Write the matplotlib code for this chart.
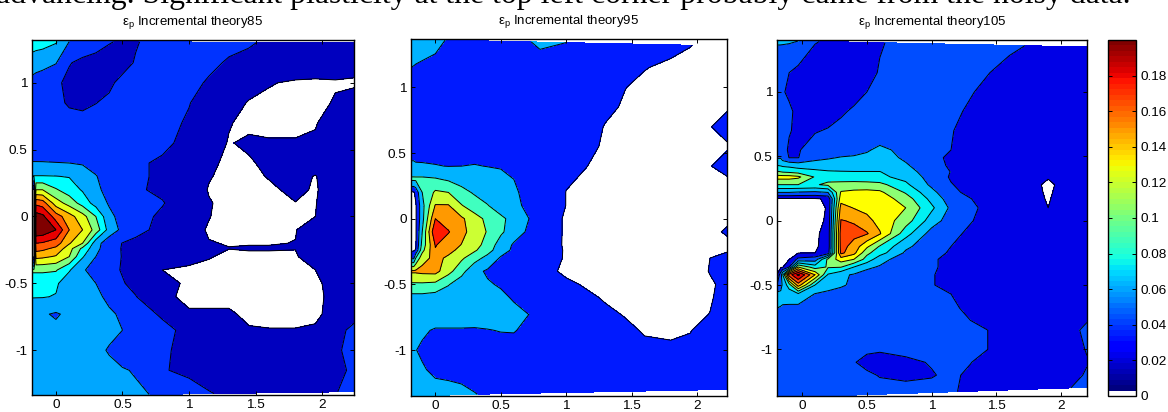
import numpy as np
import matplotlib
matplotlib.use('Agg')
import matplotlib.pyplot as plt
from matplotlib.colors import ListedColormap, Normalize
from matplotlib.cm import ScalarMappable

plt.rcParams['font.family'] = 'Liberation Sans'
plt.rcParams['mathtext.fontset'] = 'custom'
plt.rcParams['mathtext.rm'] = 'Liberation Sans'
plt.rcParams['mathtext.it'] = 'Liberation Sans'

# strain values are read in units of 1e-3
x1 = [-0.18, -0.165, -0.15, -0.1, 0, 0.1, 0.2, 0.3, 0.4, 0.5, 0.6, 0.8, 1, 1.15, 1.3, 1.45, 1.6, 1.8, 1.95, 2.1, 2.24]
y1 = [1.31, 1.15, 1, 0.85, 0.7, 0.55, 0.4, 0.3, 0.2, 0.1, 0, -0.1, -0.2, -0.24, -0.3, -0.4, -0.5, -0.6, -0.73, -0.85, -1, -1.15, -1.33]
z1 = [
    [72, 71, 70, 68, 62, 40, 32, 28, 21, 18, 19, 26, 27, 27, 25, 22, 17, 14, 13, 12, 10],
    [48, 48, 47, 46, 41, 21, 16, 13, 13, 16, 21, 26, 26, 24, 18, 15, 12, 9, 7, 6, 6],
    [35, 34, 33, 30, 23, 16, 14, 15, 18, 23, 25, 26, 25, 18, 10, 6, 3.5, 2, 2, 2.5, 2],
    [30, 29, 29, 27, 22, 19, 18, 19.8, 22, 25, 26, 25, 20.5, 14, 6, 2.5, 1.5, 1, 1.5, 3.5, 6],
    [28, 28, 27, 26, 24, 23, 23, 24, 25, 25, 25, 24, 18.5, 11, 3.5, 1, 1.5, 1.5, 2.5, 7, 9],
    [27, 27, 27, 26, 25, 25, 25, 25, 25, 25, 24, 23, 16, 7, 2.5, 4.5, 3.5, 3.5, 4, 9, 12],
    [41, 41, 41, 41, 40.5, 40, 38, 33, 28, 25, 22, 18, 10, 4.5, 1.5, 2, 5, 12, 8, 13, 14],
    [61, 61, 61, 61, 60.5, 59, 52, 41, 31, 26, 23, 17, 9, 3.5, 1, 1, 3.5, 6, 2.5, 10, 13],
    [0, 0, 100, 100, 82, 70, 58, 44, 34, 28, 22, 17, 8, 2.5, 1, 1, 1.5, 5, 2, 9, 13],
    [0, 0, 155, 150, 110, 92, 72, 52, 38, 31, 26, 21, 10, 3.5, 1, 1.5, 2, 2.8, 2.5, 11, 14],
    [0, 0, 190, 185, 150, 128, 108, 80, 45, 33, 26, 17, 8, 3.2, 1, 1, 1.5, 1.5, 3, 12, 15],
    [0, 0, 197, 195, 180, 140, 120, 92, 52, 35, 25, 15, 5, 2.5, 1, 1, 1, 2.5, 10, 14, 16],
    [0, 0, 160, 158, 150, 122, 100, 48, 28, 19.5, 16, 12, 6, 3.2, 2.8, 2.5, 2.5, 3.2, 12, 16, 18],
    [0, 0, 148, 145, 135, 108, 75, 46, 27, 19, 15, 12, 7, 4, 3.1, 3.8, 3.8, 3.2, 14, 17, 19],
    [0, 0, 126, 124, 118, 100, 62, 40, 30, 19, 15, 10, 6, 3.5, 1.5, 1, 1, 2, 9, 16, 18],
    [84, 84, 84, 84, 82, 62, 42, 33, 24, 19, 14, 3, 1.5, 1, 1, 1, 1, 1.5, 3, 12, 15],
    [65, 65, 65, 65, 63, 48, 44, 40, 32, 21, 16, 6, 1.5, 1, 1, 1, 1, 1, 2, 5, 13],
    [61, 61, 61, 61, 59, 50, 47, 43, 37, 27, 20.5, 5, 1, 1, 1, 1, 1, 1, 1.5, 5, 12],
    [47, 46, 45, 42, 38, 44, 46, 44, 42, 38, 27, 18, 4, 4, 4, 1.5, 1, 1, 1.5, 6, 12],
    [48, 48, 47, 46, 44, 44, 44, 44, 43, 40, 33, 24, 16, 9, 6, 3.6, 3.3, 3.3, 4, 12, 26],
    [44, 44, 44, 44, 44, 44, 44, 43, 39, 34, 30, 22, 16, 12, 9, 8, 7, 8, 10, 18, 24],
    [44, 44, 44, 44, 44, 44, 44, 44, 43, 41, 39, 21, 17, 13, 10, 9, 8, 8, 10, 17, 22],
    [44, 44, 44, 44, 44, 44, 44, 44, 44, 44, 42, 38, 26, 21, 17, 14, 12, 12, 14, 19, 27],
]

x2 = [-0.186, -0.165, -0.15, -0.1, 0, 0.1, 0.2, 0.3, 0.4, 0.5, 0.6, 0.8, 1, 1.15, 1.3, 1.45, 1.6, 1.8, 1.95, 2.1, 2.23]
y2 = [1.35, 1.15, 1, 0.85, 0.7, 0.55, 0.4, 0.3, 0.2, 0.1, 0, -0.1, -0.2, -0.24, -0.3, -0.4, -0.5, -0.6, -0.73, -0.85, -1, -1.15, -1.33]
z2 = [
    [45, 44, 44, 42, 36, 28, 24, 22, 21, 21, 22, 34, 30, 24, 16, 12, 8, 6, 3.2, 1, 1],
    [30, 29, 28, 26, 24, 22, 20, 20, 20, 20, 20, 20, 18, 15, 10, 7, 3.4, 1, 1, 1, 1],
    [24, 23, 22, 21, 20, 20, 20, 20, 20, 20, 20, 18, 15, 11, 7, 3.2, 1, 1, 1, 1, 1],
    [20, 20, 20, 20, 20, 20, 20, 20, 20, 20, 19, 16, 13, 9, 5, 2, 1, 1, 1, 1, 1.5],
    [20, 20, 20, 20, 20, 20, 20, 20, 20, 20, 19, 15, 11, 7, 2.5, 1.5, 1, 1, 1, 2.5, 8],
    [22, 22, 22, 21, 20, 20, 20, 20, 20, 20, 19, 14, 9, 5, 2, 1, 1, 1, 1, 1, 1.5],
    [33, 33, 32, 32, 31, 29.5, 30, 31, 29.5, 28, 26, 15, 8, 3.2, 1, 1, 1, 1, 1, 2.5, 8],
    [66, 66, 66, 66, 63, 56, 50, 45, 40, 37, 30, 16, 4, 2, 1, 1, 1, 1, 1, 1, 1.5],
    [0, 0, 10, 60, 95, 90, 68, 57, 50, 44, 33, 17, 2.8, 1, 1, 1, 1, 1, 1, 1, 1],
    [0, 0, 0, 50, 122, 122, 92, 72, 61, 48, 36, 16, 2.8, 1, 1, 1, 1, 1, 1, 1, 1],
    [0, 0, 0, 50, 150, 135, 125, 103, 82, 65, 52, 14, 1, 1, 1, 1, 1, 1, 1, 1, 1.5],
    [0, 0, 0, 60, 178, 152, 130, 105, 88, 66, 42, 14, 1, 1, 1, 1, 1, 1, 1, 1, 4],
    [0, 0, 0, 70, 152, 135, 119, 100, 80, 45, 27, 13, 1, 1, 1, 1, 1, 1, 1, 1, 1],
    [0, 0, 5, 80, 148, 128, 112, 94, 72, 42, 25, 13, 1.5, 1, 1, 1, 1, 1, 1, 1, 2],
    [25, 25, 60, 110, 128, 115, 95, 72, 50, 27, 22, 12, 1.5, 1, 1, 1, 1, 1, 1, 3, 6],
    [125, 125, 125, 128, 130, 100, 70, 38, 26, 20, 15, 7, 1, 1, 1, 1, 1, 1, 1, 3.2, 6],
    [85, 85, 85, 85, 82, 62, 44, 38, 33, 27, 20, 9, 5, 2, 1, 1, 1, 1, 1, 2.5, 4],
    [50, 50, 50, 50, 46, 42, 40, 40, 38, 36, 27, 10, 7, 5, 2, 1, 1, 1, 1, 2, 7],
    [42, 42, 42, 42, 42, 42, 42, 42, 42, 42, 38, 24, 10, 7, 5, 2.5, 1, 1, 1, 3.2, 14],
    [34, 34, 34, 33, 28, 28, 28, 27.5, 29, 31, 31.5, 18, 10, 8, 7, 5, 2.2, 1.5, 2.5, 9, 18],
    [32, 31, 30.5, 27, 22, 21, 20, 20, 20, 20, 20, 16, 12, 10, 8, 7, 5, 4.5, 6, 12, 18],
    [34, 34, 34, 32, 26, 24, 22, 20, 20, 20, 20, 18, 15, 12, 10, 9, 8, 8, 9, 13, 18],
    [38, 38, 38, 38, 38, 38, 36, 31, 26, 24, 22, 20, 18, 16, 15, 14, 14, 14, 14, 16, 20],
]

x3 = [-0.194, -0.165, -0.15, -0.1, -0.03, 0.1, 0.2, 0.3, 0.4, 0.5, 0.6, 0.8, 1, 1.15, 1.3, 1.45, 1.6, 1.8, 1.9, 2.05, 2.2]
y3 = [1.39, 1.15, 1, 0.85, 0.7, 0.55, 0.49, 0.43, 0.38, 0.34, 0.28, 0.22, 0.17, 0.1, 0, -0.1, -0.2, -0.25, -0.3, -0.36, -0.42, -0.5, -0.57, -0.68, -0.85, -1, -1.1, -1.2, -1.36]
z3 = [
    [42, 42, 42, 42, 40, 21, 18, 15, 14, 14, 19, 24, 26, 27, 27, 25, 23, 18, 14, 13, 12],
    [28, 27, 26, 20, 14, 10, 9, 10, 12, 16, 21, 26, 27, 26, 24, 20, 15, 10, 9, 9, 9],
    [24, 23, 21, 18, 12, 9, 9, 11, 15, 20, 23, 26, 27, 26, 21, 16, 12, 8, 7, 7, 8],
    [27, 26, 25, 22, 17, 13, 14, 18, 22, 25, 26, 27, 27, 23, 18, 13, 10, 8, 7, 7, 8],
    [27, 26, 26, 21, 17, 19, 21, 24, 26, 27, 27, 27, 25, 21, 14, 11, 9, 7, 6, 6, 8],
    [27, 26, 25, 18, 19, 26, 29, 31, 34, 38, 44, 35, 25, 20, 14, 10, 8, 6, 5, 5, 7],
    [38, 38, 30, 19.5, 19.5, 35, 38, 41, 42, 44, 48, 37, 23, 18, 12, 9, 7, 5, 5, 5, 7],
    [60, 58, 56, 54, 50, 48, 49, 50, 51, 51, 50, 42, 28, 17, 11, 8, 6, 4.5, 4.5, 4.5, 7],
    [82, 80, 78, 76, 72, 66, 62, 61, 60.5, 60.5, 60.5, 48, 30, 19.5, 10, 7, 5, 4, 4, 4, 7],
    [108, 108, 108, 108, 104, 78, 72, 70, 68, 66, 64, 54, 32, 18, 9, 6.5, 5, 4, 3.4, 4, 6],
    [80, 80, 80, 80, 80, 78, 84, 86, 88, 88, 86, 64, 36, 21, 13, 8, 5, 3.9, 2, 5, 6],
    [40, 40, 40, 40, 38, 36, 40, 102, 105, 106, 104, 78, 46, 24, 16, 9, 6, 3.9, 2.4, 5, 6],
    [1, 1, 1, 1, 1, 1.5, 5, 112, 114, 114, 112, 90, 54, 30, 20.5, 12, 7, 3.9, 2.7, 5, 6],
    [1, 1, 1, 1, 1, 1, 3.5, 128, 119, 114, 112, 100, 64, 36, 22, 17, 10, 3.9, 3, 5, 6],
    [1, 1, 1, 1, 1, 1, 4, 141, 138, 126, 113, 90, 50, 30, 21, 14, 8, 4.2, 4, 5, 6],
    [1, 1, 1, 1, 1, 1.5, 6, 150, 146, 142, 122, 68, 32, 24, 17, 11, 7, 5, 5, 5, 6],
    [1, 1, 1, 1, 1, 2, 6, 148, 132, 104, 78, 44, 28, 20, 14, 10, 7, 5, 5, 5, 6],
    [1, 1, 1, 1, 2.5, 3, 10, 145, 126, 85, 68, 37, 26, 18, 12, 9, 7, 5, 5, 5, 6],
    [1, 1, 1, 2.5, 25, 30, 85, 110, 100, 72, 48, 28, 22, 16, 11, 8, 6, 5, 5, 5, 6],
    [1, 1, 2, 20, 100, 70, 82, 81, 60, 44, 38, 26, 22, 16, 10, 8, 6, 5, 5, 5, 6],
    [3, 30, 60, 150, 185, 120, 58, 44, 38, 32, 30, 24, 21, 15, 10, 8, 6, 5, 5, 5, 6],
    [20, 30, 45, 70, 130, 60, 47, 42, 37, 33, 30, 24, 21, 15, 10, 8, 6, 5, 5, 5, 6],
    [46, 46, 46, 48, 56, 39, 36, 34, 32, 31, 30, 27, 25, 20, 12, 8, 6, 5, 5, 5, 6],
    [40, 39, 38, 37, 34, 31, 30, 30, 30, 29, 29, 28, 27, 24, 15, 9, 6, 5, 5, 6, 9],
    [30, 30, 30, 30, 30, 30, 30, 30, 30, 29, 28, 28, 28, 26, 24, 19.5, 12, 8, 7, 10, 26],
    [30, 30, 30, 30, 29, 28, 27, 26, 24, 23, 22, 24, 26, 26, 24, 19.5, 12, 8, 8, 12, 21],
    [30, 30, 30, 30, 29, 27, 26, 24, 21, 15, 13, 17, 21, 26, 20.5, 13, 10, 8, 8, 12, 19],
    [32, 32, 32, 32, 30, 29, 28, 27, 26, 23, 19, 17, 19, 23, 17, 12, 10, 8, 8, 13, 22],
    [34, 34, 34, 34, 33, 32, 31, 30, 29, 28, 27, 26, 25, 22, 16, 12, 10, 9, 9, 18, 30],
]

levels1 = [3, 20, 40, 60, 80, 100, 120, 140, 160, 180]
levels2 = [3, 30, 60, 90, 120, 150, 180]
levels3 = [3, 20, 40, 60, 80, 100, 120, 140, 160, 180]

colors1 = [(0, 0, .75), (0, .2, 1), (0, .65, 1), (0, 1, 1), (.5, 1, .5), (.9, 1, .1), (1, .7, 0), (1, .35, 0), (.9, 0, 0), (.5, 0, 0)]
colors2 = [(0, .1, 1), (0, .7, 1), (.25, 1, .75), (.8, 1, .2), (1, .6, 0), (1, .1, 0), (.5, 0, 0)]
colors3 = [(0, 0, .9), (0, .3, 1), (0, .75, 1), (0, .95, .95), (.55, 1, .45), (1, 1, 0), (1, .65, 0), (1, .27, 0), (.9, 0, 0), (.5, 0, 0)]

titles = ['85', '95', '105']
xticks = [0, 0.5, 1, 1.5, 2]
xticklabels = ['0', '0.5', '1', '1.5', '2']
yticks = [-1, -0.5, 0, 0.5, 1]
yticklabels = ['-1', '-0.5', '0', '0.5', '1']
cbar_ticks = [0, 0.02, 0.04, 0.06, 0.08, 0.1, 0.12, 0.14, 0.16, 0.18]
cbar_labels = ['0', '0.02', '0.04', '0.06', '0.08', '0.1', '0.12', '0.14', '0.16', '0.18']
top_text = 'advancing. Significant plasticity at the top left corner probably came from the noisy data.'

W, H = 1168, 412
fig = plt.figure(figsize=(W / 100, H / 100), dpi=100)


def box(l, t, r, b):
    return fig.add_axes([l / W, 1 - b / H, (r - l) / W, (b - t) / H])


def panel(rect, x, y, z, levels, colors, top, bottom, xlim, ylim, name):
    ax = box(*rect)
    X, Y = np.meshgrid(x, y)
    Y[0] = np.interp(x, [x[0], x[-1]], top)
    Y[-1] = np.interp(x, [x[0], 0.4, x[-1]], bottom)
    Z = np.array(z, dtype=float)
    ax.contourf(X, Y, Z, levels=levels + [1000], colors=colors)
    ax.contour(X, Y, Z, levels=levels, colors='k', linewidths=0.7)
    ax.set_xlim(xlim)
    ax.set_ylim(ylim)
    ax.set_xticks(xticks, xticklabels)
    ax.set_yticks(yticks, yticklabels)
    ax.tick_params(direction='in', top=True, right=True, length=3, width=0.7, labelsize=9.7, pad=3)
    for s in ax.spines.values():
        s.set_linewidth(1.0)
    ax.set_title(r'$\mathrm{\varepsilon_p}$ Incremental theory' + name, fontsize=9.5, pad=11)
    return ax


panel((32, 40, 354, 395), x1, y1, z1, levels1, colors1, (1.31, 1.30), (-1.335, -1.335, -1.31), (-0.18, 2.24), (-1.335, 1.32), titles[0])
panel((411, 39, 727, 396), x2, y2, z2, levels2, colors2, (1.365, 1.315), (-1.35, -1.335, -1.30), (-0.186, 2.23), (-1.35, 1.368), titles[1])
panel((777, 40, 1087, 396), x3, y3, z3, levels3, colors3, (1.40, 1.35), (-1.362, -1.355, -1.295), (-0.194, 2.2), (-1.362, 1.404), titles[2])

# colorbar: white bottom step then jet
cax = box(1108, 40, 1136, 396)
cmap = ListedColormap(['white'] + [plt.get_cmap('jet')(i / 63) for i in range(64)])
cb = fig.colorbar(ScalarMappable(Normalize(0, 0.2), cmap), cax=cax)
cb.set_ticks(cbar_ticks, labels=cbar_labels)
cb.ax.tick_params(direction='in', length=3, width=0.7, labelsize=9.7, pad=3, left=True, right=True)
cb.outline.set_linewidth(1.0)

fig.text(-4 / W, 1 - 3 / H, top_text, family='Liberation Serif', fontsize=22.9, va='baseline', ha='left')

fig.savefig('out.png', dpi=100)
